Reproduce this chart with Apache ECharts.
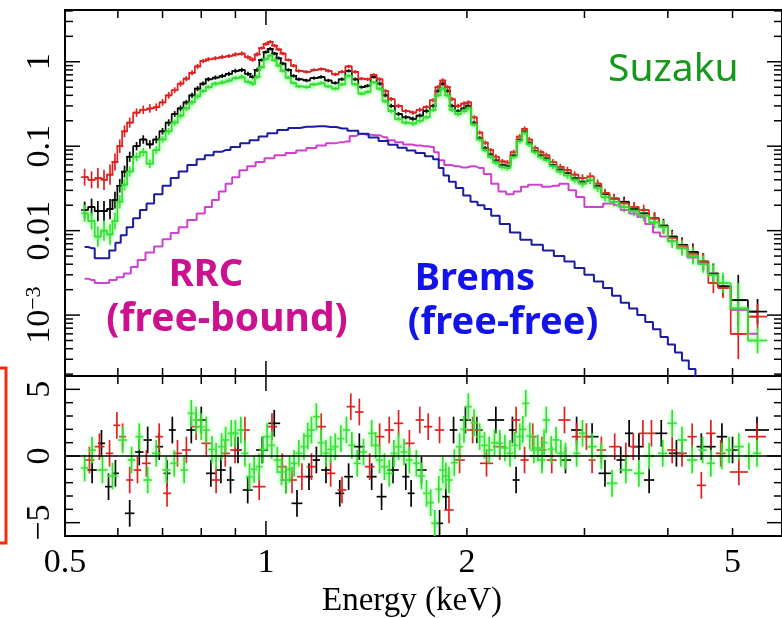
<!DOCTYPE html>
<html lang="en">
  <head>
    <meta charset="UTF-8" />
    <title>Suzaku spectrum</title>
    <script src="https://cdn.jsdelivr.net/npm/echarts@6.0.0/dist/echarts.min.js"></script>
    <style>
      html, body { margin: 0; padding: 0; background: #fff; }
    </style>
  </head>
  <body>
    <div id="main" style="width: 782px; height: 618px"></div>
    <script type="text/javascript">
      // spectral bins (keV), shared by the three detectors
      const energy = [0.535, 0.548, 0.56, 0.572, 0.584, 0.594, 0.604, 0.614, 0.625, 0.64,
        0.655, 0.67, 0.685, 0.70, 0.715, 0.73, 0.745, 0.76, 0.775, 0.79,
        0.805, 0.82, 0.84, 0.86, 0.88, 0.90, 0.92, 0.94, 0.955, 0.97,
        0.985, 1.0, 1.015, 1.03, 1.045, 1.06, 1.08, 1.10, 1.12, 1.15,
        1.18, 1.21, 1.24, 1.27, 1.30, 1.33, 1.36, 1.39, 1.42, 1.45,
        1.48, 1.51, 1.54, 1.58, 1.62, 1.66, 1.70, 1.74, 1.78, 1.81,
        1.84, 1.87, 1.90, 1.94, 1.98, 2.01, 2.05, 2.09, 2.13, 2.17,
        2.21, 2.26, 2.30, 2.35, 2.40, 2.44, 2.48, 2.53, 2.58, 2.63,
        2.69, 2.76, 2.83, 2.90, 2.98, 3.06, 3.14, 3.22, 3.32, 3.44,
        3.56, 3.68, 3.82, 3.94, 4.06, 4.2, 4.36, 4.52, 4.68, 4.84,
        5.1, 5.45];
      const fluxRed = [0.043, 0.040, 0.042, 0.040, 0.046, 0.065, 0.10, 0.15, 0.19, 0.25,
        0.27, 0.28, 0.29, 0.33, 0.40, 0.46, 0.55, 0.63, 0.74, 0.88,
        1.02, 1.07, 1.10, 1.14, 1.17, 1.22, 1.25, 1.13, 1.06, 1.22,
        1.45, 1.62, 1.72, 1.55, 1.40, 1.25, 1.05, 0.90, 0.78, 0.76,
        0.80, 0.82, 0.78, 0.71, 0.76, 0.88, 0.76, 0.63, 0.62, 0.70,
        0.62, 0.45, 0.36, 0.30, 0.26, 0.25, 0.27, 0.29, 0.35, 0.50,
        0.60, 0.50, 0.36, 0.30, 0.32, 0.33, 0.22, 0.145, 0.11, 0.09,
        0.075, 0.066, 0.064, 0.085, 0.13, 0.16, 0.12, 0.095, 0.085, 0.078,
        0.065, 0.057, 0.052, 0.046, 0.042, 0.044, 0.036, 0.028, 0.024, 0.021,
        0.019, 0.0175, 0.014, 0.011, 0.0082, 0.0066, 0.0053, 0.0043, 0.0024, 0.0021,
        0.0006, 0.00096];
      const fluxBlack = [0.0175, 0.019, 0.017, 0.017, 0.018, 0.023, 0.034, 0.05, 0.075, 0.10,
        0.12, 0.105, 0.12, 0.15, 0.19, 0.24, 0.28, 0.33, 0.40, 0.48,
        0.55, 0.62, 0.65, 0.68, 0.72, 0.78, 0.80, 0.72, 0.66, 0.80,
        1.05, 1.30, 1.42, 1.25, 1.10, 0.95, 0.80, 0.68, 0.62, 0.60,
        0.64, 0.66, 0.60, 0.56, 0.62, 0.78, 0.62, 0.50, 0.52, 0.66,
        0.55, 0.40, 0.30, 0.24, 0.22, 0.21, 0.23, 0.26, 0.30, 0.45,
        0.55, 0.45, 0.30, 0.26, 0.28, 0.30, 0.19, 0.125, 0.095, 0.08,
        0.068, 0.060, 0.058, 0.078, 0.12, 0.15, 0.11, 0.088, 0.078, 0.072,
        0.06, 0.053, 0.048, 0.042, 0.038, 0.040, 0.034, 0.027, 0.024, 0.022,
        0.018, 0.016, 0.014, 0.0115, 0.0085, 0.0068, 0.0056, 0.0043, 0.0031, 0.0022,
        0.0015, 0.0011];
      const fluxGreen = [0.016, 0.013, 0.0085, 0.010, 0.009, 0.013, 0.022, 0.035, 0.05, 0.075,
        0.085, 0.062, 0.09, 0.12, 0.15, 0.19, 0.23, 0.28, 0.33, 0.39,
        0.45, 0.50, 0.55, 0.57, 0.60, 0.64, 0.66, 0.58, 0.55, 0.66,
        0.86, 1.08, 1.18, 1.04, 0.90, 0.78, 0.65, 0.56, 0.51, 0.50,
        0.54, 0.56, 0.51, 0.48, 0.54, 0.68, 0.54, 0.42, 0.44, 0.57,
        0.48, 0.34, 0.26, 0.21, 0.19, 0.185, 0.20, 0.22, 0.27, 0.40,
        0.48, 0.40, 0.27, 0.24, 0.26, 0.28, 0.18, 0.12, 0.09, 0.075,
        0.064, 0.057, 0.055, 0.075, 0.115, 0.145, 0.105, 0.085, 0.075, 0.069,
        0.058, 0.050, 0.045, 0.040, 0.036, 0.040, 0.032, 0.025, 0.022, 0.019,
        0.017, 0.015, 0.0125, 0.011, 0.0075, 0.0062, 0.0050, 0.0040, 0.0030, 0.0024,
        0.0012, 0.0005];
      // half length of the vertical error bars, in decades
      const fluxErrDex = [0.1, 0.1, 0.12, 0.12, 0.12, 0.1, 0.08, 0.07, 0.06, 0.05,
        0.05, 0.05, 0.045, 0.04, 0.04, 0.035, 0.035, 0.03, 0.03, 0.03,
        0.025, 0.025, 0.025, 0.025, 0.025, 0.025, 0.025, 0.025, 0.025, 0.025,
        0.02, 0.02, 0.02, 0.02, 0.02, 0.02, 0.02, 0.02, 0.02, 0.02,
        0.02, 0.02, 0.02, 0.02, 0.02, 0.02, 0.02, 0.02, 0.02, 0.02,
        0.025, 0.025, 0.025, 0.025, 0.025, 0.025, 0.025, 0.025, 0.025, 0.025,
        0.025, 0.025, 0.025, 0.025, 0.025, 0.025, 0.025, 0.025, 0.025, 0.025,
        0.03, 0.03, 0.03, 0.03, 0.03, 0.03, 0.03, 0.03, 0.03, 0.03,
        0.035, 0.035, 0.04, 0.04, 0.045, 0.045, 0.05, 0.05, 0.055, 0.06,
        0.06, 0.065, 0.07, 0.08, 0.08, 0.09, 0.1, 0.1, 0.12, 0.12,
        0.3, 0.15];

      // bremsstrahlung (free-free) model
      const bremsEnergy = [0.535, 0.548, 0.56, 0.575, 0.59, 0.60, 0.612, 0.625, 0.64, 0.655,
        0.67, 0.69, 0.71, 0.73, 0.75, 0.775, 0.80, 0.82, 0.85, 0.87,
        0.90, 0.93, 0.96, 0.99, 1.02, 1.06, 1.10, 1.15, 1.20, 1.25,
        1.30, 1.35, 1.40, 1.45, 1.50, 1.55, 1.60, 1.65, 1.70, 1.76,
        1.80, 1.83, 1.86, 1.90, 1.95, 2.00, 2.05, 2.10, 2.15, 2.20,
        2.28, 2.36, 2.45, 2.55, 2.65, 2.75, 2.85, 2.95, 3.05, 3.15,
        3.25, 3.35, 3.45, 3.55, 3.65, 3.75, 3.85, 3.95, 4.05, 4.15,
        4.25, 4.35, 4.45, 4.55];
      const bremsFlux = [0.0064, 0.0062, 0.0047, 0.0047, 0.0058, 0.0072, 0.0088, 0.011, 0.014, 0.0175,
        0.021, 0.027, 0.034, 0.042, 0.05, 0.06, 0.07, 0.078, 0.086, 0.090,
        0.098, 0.108, 0.118, 0.13, 0.142, 0.155, 0.164, 0.170, 0.172, 0.169,
        0.162, 0.152, 0.14, 0.127, 0.115, 0.104, 0.096, 0.089, 0.083, 0.076,
        0.070, 0.055, 0.045, 0.038, 0.032, 0.026, 0.022, 0.020, 0.018, 0.015,
        0.012, 0.0095, 0.0078, 0.0068, 0.0058, 0.005, 0.0043, 0.0036, 0.003, 0.0025,
        0.0021, 0.0017, 0.0014, 0.0012, 0.001, 0.00083, 0.00068, 0.00055, 0.00045, 0.00036,
        0.00029, 0.00023, 0.00018, 0.00014];

      // radiative recombination (free-bound) model
      const rrcEnergy = [0.535, 0.548, 0.56, 0.575, 0.59, 0.605, 0.62, 0.635, 0.65, 0.67,
        0.69, 0.71, 0.73, 0.75, 0.775, 0.80, 0.82, 0.84, 0.86, 0.88,
        0.90, 0.925, 0.95, 0.98, 1.01, 1.05, 1.09, 1.13, 1.17, 1.21,
        1.25, 1.29, 1.32, 1.35, 1.38, 1.42, 1.46, 1.50, 1.54, 1.58,
        1.63, 1.68, 1.73, 1.77, 1.80, 1.83, 1.87, 1.92, 1.97, 2.03,
        2.09, 2.15, 2.2, 2.26, 2.32, 2.38, 2.44, 2.5, 2.56, 2.62,
        2.7, 2.8, 2.88, 2.95, 3.05, 3.15, 3.25, 3.35, 3.45, 3.55,
        3.65, 3.75, 3.85, 3.94, 4.06, 4.2, 4.36, 4.52, 4.66, 4.84,
        5.1, 5.45];
      const rrcFlux = [0.0027, 0.0026, 0.0024, 0.0024, 0.0026, 0.0028, 0.0031, 0.0037, 0.0045, 0.0055,
        0.0065, 0.0079, 0.0094, 0.011, 0.0134, 0.016, 0.019, 0.023, 0.029, 0.036,
        0.043, 0.052, 0.058, 0.065, 0.072, 0.078, 0.083, 0.089, 0.095, 0.102,
        0.108, 0.111, 0.114, 0.132, 0.139, 0.137, 0.135, 0.128, 0.118, 0.111,
        0.105, 0.102, 0.100, 0.098, 0.085, 0.068, 0.060, 0.058, 0.056, 0.058,
        0.055, 0.047, 0.036, 0.029, 0.027, 0.029, 0.033, 0.035, 0.035, 0.033,
        0.034, 0.036, 0.03, 0.025, 0.019, 0.019, 0.021, 0.02, 0.0175, 0.016,
        0.0145, 0.012, 0.0095, 0.0085, 0.0075, 0.0062, 0.0048, 0.0042, 0.0031, 0.0022,
        0.00115, 0.0006];

      // residuals (sigma)
      const resGreenEnergy = [0.535, 0.549, 0.569, 0.589, 0.61, 0.629, 0.646, 0.665, 0.685, 0.709,
        0.729, 0.754, 0.773, 0.786, 0.80, 0.814, 0.83, 0.842, 0.858, 0.87,
        0.887, 0.90, 0.917, 0.93, 0.945, 0.96, 0.977, 0.99, 1.004, 1.02,
        1.04, 1.055, 1.072, 1.085, 1.102, 1.12, 1.14, 1.155, 1.17, 1.19,
        1.21, 1.23, 1.25, 1.27, 1.295, 1.32, 1.345, 1.37, 1.40, 1.44,
        1.46, 1.48, 1.505, 1.53, 1.555, 1.58, 1.61, 1.64, 1.68, 1.71,
        1.74, 1.765, 1.79, 1.815, 1.84, 1.86, 1.88, 1.915, 1.95, 1.98,
        2.01, 2.05, 2.09, 2.125, 2.16, 2.20, 2.24, 2.28, 2.32, 2.36,
        2.40, 2.425, 2.45, 2.485, 2.52, 2.555, 2.59, 2.61, 2.63, 2.675,
        2.72, 2.765, 2.81, 2.92, 2.98, 3.08, 3.18, 3.30, 3.46, 3.62,
        3.75, 3.93, 4.06, 4.20, 4.35, 4.51, 4.64, 4.82, 4.94, 5.11,
        5.29, 5.44];
      const resGreen = [-0.9, 0.45, -1.05, -1.5, 1.2, -0.3, 1.45, -1.8, 0.2, -1.05,
        -0.55, -1.05, 3.2, 2.7, 2.2, 1.95, 0.5, 0, 0.7, 1.2,
        1.7, 1.7, 1.95, 0.2, -1.55, -1.0, -0.8, 0.5, 1.45, 0.8,
        -0.3, -1.2, -1.8, -1.0, -0.55, 0.2, 0.7, 1.5, 1.95, 2.95,
        1.0, 0.2, 0.5, 0.7, 1.3, 1.95, 0.8, -0.55, 0.3, 1.7,
        0.8, -0.3, -0.8, -1.3, 0.2, 0.7, 0.3, -0.3, -0.55, -1.5,
        -2.8, -3.5, -5.05, -2.5, -1.05, -1.5, -1.8, -0.5, 0.7, 2.0,
        3.7, 2.5, 1.45, 0.8, 0.45, 1.0, 0.95, 0.6, 0.2, 0.8,
        1.45, 2.0, 3.95, 1.5, 0.45, 0.6, -0.3, 1.0, 2.7, 0.5,
        1.2, 0.2, 0, 0.2, 1.7, 0.7, 0, -2.05, -1.05, -1.3,
        0, 0.2, 2.45, 1.2, -0.3, 0.45, -0.55, 0, 0.45, 0.7,
        0, 0.2];
      const resRedEnergy = [0.544, 0.563, 0.583, 0.598, 0.61, 0.625, 0.642, 0.662, 0.692, 0.711,
        0.737, 0.76, 0.786, 0.814, 0.842, 0.869, 0.899, 0.93, 0.977, 1.021,
        1.058, 1.094, 1.132, 1.17, 1.21, 1.25, 1.30, 1.34, 1.38, 1.43,
        1.48, 1.53, 1.58, 1.64, 1.70, 1.75, 1.82, 1.88, 1.95, 2.04,
        2.14, 2.24, 2.37, 2.44, 2.51, 2.59, 2.68, 2.80, 2.92, 3.02,
        3.08, 3.18, 3.33, 3.46, 3.55, 3.67, 3.78, 4.06, 4.20, 4.35,
        4.49, 4.64, 4.80, 5.11, 5.44];
      const resRed = [-0.3, 0.7, 0.2, 2.3, 1.45, -1.8, -1.05, -0.55, 1.45, -2.8,
        0.2, 0.45, 2.2, 0.95, -1.8, 0.2, 0.45, 1.95, -2.3, 2.2,
        -0.8, -1.8, -1.55, -0.8, 2.2, -1.3, -2.55, 3.7, 3.3, -0.8,
        1.45, 1.95, 2.45, 0.95, 2.7, 2.2, 1.95, -4.05, -0.3, 1.95,
        -0.55, 0.7, 2.7, -0.3, 1.45, 0.45, -0.3, 2.7, 1.45, 1.45,
        -0.3, 0.45, 0.7, 0, 0.7, 1.7, 1.7, 0.45, 0.2, 1.45,
        -2.2, 1.7, 0.2, -1.2, 1.45];
      const resBlackEnergy = [0.549, 0.567, 0.581, 0.595, 0.625, 0.646, 0.665, 0.692, 0.711, 0.724,
        0.773, 0.80, 0.827, 0.856, 0.885, 0.908, 0.939, 0.987, 1.029, 1.072,
        1.113, 1.16, 1.19, 1.23, 1.29, 1.33, 1.38, 1.44, 1.49, 1.55,
        1.62, 1.65, 1.71, 1.82, 1.86, 1.91, 1.99, 2.07, 2.21, 2.34,
        2.37, 2.59, 2.81, 2.92, 3.08, 3.22, 3.40, 3.50, 3.62, 3.75,
        3.91, 4.12, 4.49, 4.64, 4.82, 5.0, 5.44];
      const resBlack = [-1.05, 0.95, -2.3, -1.3, -4.3, 0.3, 1.2, 0.7, -1.3, 1.95,
        1.95, 2.7, -1.3, -1.05, -1.8, 0.45, -2.55, 0.45, 2.45, -1.8,
        -3.55, -1.55, -0.3, -1.05, -2.8, -1.55, 0.7, -1.55, -3.05, -1.05,
        -1.55, -2.8, -1.05, -5.05, -3.05, 1.95, 2.7, 1.95, 2.7, 1.95,
        -1.8, 0, -0.3, 1.95, 1.45, -1.3, -0.3, 1.7, 0.7, -1.8,
        1.7, 0.2, 0.7, 0.7, 1.45, 0.45, 1.95];

      // axes
      const xMin = 0.5, xMax = 5.93;
      const xMajorTicks = [1];
      const xMinorTicks = [0.6, 0.7, 0.8, 0.9, 2, 3, 4, 5];
      const xTickLabels = [0.5, 1, 2, 5];
      const xTickTexts = ['0.5', '1', '2', '5'];
      const yTopMajorTicks = [0.001, 0.01, 0.1, 1];
      const yTopTickTexts = ['{b|10}{s|\u22123}', '0.01', '0.1', '1'];
      const yTopMinorTicks = [];
      [0.0001, 0.001, 0.01, 0.1, 1].forEach(d => {
        for (let m = 2; m <= 9; m++) {
          const v = d * m;
          if (v > 1.9e-4 && v < 4.1) yTopMinorTicks.push(v);
        }
      });
      const yBotMajorTicks = [-5, 0, 5];
      const yBotTickTexts = ['\u22125', '0', '5'];
      const yBotMinorTicks = [-4, -3, -2, -1, 1, 2, 3, 4];

      const serifFamily = '"Liberation Serif", "DejaVu Serif", serif';

      function stepLine(gridIndex, xs, ys, color, width, glow) {
        const lineStyle = { color: color, width: width };
        if (glow) { lineStyle.shadowBlur = 4; lineStyle.shadowColor = glow; }
        return {
          type: 'line', xAxisIndex: gridIndex, yAxisIndex: gridIndex,
          step: 'middle', symbol: 'none', silent: true, clip: true,
          data: xs.map((x, i) => [x, ys[i]]),
          lineStyle: lineStyle
        };
      }

      function errorBars(gridIndex, xs, ys, lows, highs, color, glow, hwMax) {
        return {
          type: 'custom', xAxisIndex: gridIndex, yAxisIndex: gridIndex,
          clip: true, silent: true,
          data: xs.map((x, i) => [x, ys[i], lows[i], highs[i], i]),
          renderItem: function (params, api) {
            const i = api.value(4);
            const c = api.coord([api.value(0), api.value(1)]);
            const gaps = [];
            if (i > 0) gaps.push(c[0] - api.coord([xs[i - 1], api.value(1)])[0]);
            if (i < xs.length - 1) gaps.push(api.coord([xs[i + 1], api.value(1)])[0] - c[0]);
            let hw = Math.min.apply(null, gaps) / 2;
            hw = Math.max(3.5, Math.min(hwMax, hw));
            const top = api.coord([api.value(0), api.value(3)])[1];
            const bot = api.coord([api.value(0), api.value(2)])[1];
            const style = { stroke: color, lineWidth: 1.7, fill: null };
            if (glow) { style.shadowBlur = 4; style.shadowColor = glow; }
            return {
              type: 'group',
              children: [
                { type: 'line', shape: { x1: c[0] - hw, y1: c[1], x2: c[0] + hw, y2: c[1] }, style: style },
                { type: 'line', shape: { x1: c[0], y1: top, x2: c[0], y2: bot }, style: style }
              ]
            };
          }
        };
      }

      function spectrum(xs, ys, color, glow) {
        const lo = ys.map((y, i) => y / Math.pow(10, fluxErrDex[i]));
        const hi = ys.map((y, i) => y * Math.pow(10, fluxErrDex[i]));
        return [stepLine(0, xs, ys, color, 1.7, glow), errorBars(0, xs, ys, lo, hi, color, glow, 12)];
      }

      function residuals(xs, ys, color, glow) {
        return errorBars(1, xs, ys, ys.map(v => v - 1), ys.map(v => v + 1), color, glow, 12);
      }

      function ticks(gridIndex, axis, values, length, ref) {
        return {
          type: 'custom', xAxisIndex: gridIndex, yAxisIndex: gridIndex,
          silent: true, clip: false, z: 10,
          data: values.map(v => (axis === 'x' ? [v, ref] : [ref, v])),
          renderItem: function (params, api) {
            const cs = params.coordSys;
            const p = api.coord([api.value(0), api.value(1)]);
            const style = { stroke: '#000', lineWidth: 1.5 };
            let a, b;
            if (axis === 'x') {
              a = { x1: p[0], y1: cs.y, x2: p[0], y2: cs.y + length };
              b = { x1: p[0], y1: cs.y + cs.height, x2: p[0], y2: cs.y + cs.height - length };
            } else {
              a = { x1: cs.x, y1: p[1], x2: cs.x + length, y2: p[1] };
              b = { x1: cs.x + cs.width, y1: p[1], x2: cs.x + cs.width - length, y2: p[1] };
            }
            return {
              type: 'group',
              children: [{ type: 'line', shape: a, style: style }, { type: 'line', shape: b, style: style }]
            };
          }
        };
      }

      function labels(gridIndex, axis, values, texts, ref, offset) {
        return {
          type: 'custom', xAxisIndex: gridIndex, yAxisIndex: gridIndex,
          silent: true, clip: false, z: 10,
          data: values.map(v => (axis === 'x' ? [v, ref] : [ref, v])),
          renderItem: function (params, api) {
            const cs = params.coordSys;
            const p = api.coord([api.value(0), api.value(1)]);
            const style = {
              text: texts[params.dataIndex], fontSize: 34, fontFamily: serifFamily, fill: '#000',
              textAlign: 'center', textVerticalAlign: 'middle', align: 'center', verticalAlign: 'middle',
              rich: {
                b: { fontSize: 34, fontFamily: serifFamily, fill: '#000', verticalAlign: 'bottom' },
                s: { fontSize: 22, fontFamily: serifFamily, fill: '#000', verticalAlign: 'top' }
              }
            };
            if (axis === 'x') {
              return { type: 'text', x: p[0], y: cs.y + cs.height + offset, style: style };
            }
            return { type: 'text', x: cs.x - offset, y: p[1], rotation: Math.PI / 2, style: style };
          }
        };
      }

      const hiddenAxis = {
        axisLine: { show: false }, axisTick: { show: false },
        axisLabel: { show: false }, splitLine: { show: false }
      };

      const series = [].concat(
        [stepLine(0, rrcEnergy, rrcFlux, '#d040d0', 2),
         stepLine(0, bremsEnergy, bremsFlux, '#1c1ca0', 2)],
        spectrum(energy, fluxBlack, '#000000'),
        spectrum(energy, fluxRed, '#e02020'),
        spectrum(energy, fluxGreen, '#33dd33', 'rgba(120,255,120,0.9)'),
        [{
          type: 'line', xAxisIndex: 1, yAxisIndex: 1, symbol: 'none', silent: true,
          data: [[xMin, 0], [xMax, 0]], lineStyle: { color: '#000', width: 1.5 }
        },
         residuals(resBlackEnergy, resBlack, '#000000'),
         residuals(resRedEnergy, resRed, '#e02020'),
         residuals(resGreenEnergy, resGreen, '#33dd33', 'rgba(120,255,120,0.9)'),
         ticks(0, 'x', xMajorTicks, 15, 1),
         ticks(0, 'x', xMinorTicks, 8, 1),
         ticks(1, 'x', xMajorTicks, 15, 0),
         ticks(1, 'x', xMinorTicks, 8, 0),
         ticks(0, 'y', yTopMajorTicks, 15, 1),
         ticks(0, 'y', yTopMinorTicks, 8, 1),
         ticks(1, 'y', yBotMajorTicks, 15, 1),
         ticks(1, 'y', yBotMinorTicks, 8, 1),
         labels(1, 'x', xTickLabels, xTickTexts, 0, 27),
         labels(0, 'y', yTopMajorTicks, yTopTickTexts, 1, 25),
         labels(1, 'y', yBotMajorTicks, yBotTickTexts, 1, 25)]
      );

      const option = {
        animation: false,
        backgroundColor: '#fff',
        grid: [
          { left: 65, top: 10, width: 718, height: 366, show: true, borderColor: '#000', borderWidth: 2 },
          { left: 65, top: 376, width: 718, height: 160, show: true, borderColor: '#000', borderWidth: 2 }
        ],
        xAxis: [
          Object.assign({ type: 'log', gridIndex: 0, min: xMin, max: xMax }, hiddenAxis),
          Object.assign({ type: 'log', gridIndex: 1, min: xMin, max: xMax }, hiddenAxis)
        ],
        yAxis: [
          Object.assign({ type: 'log', gridIndex: 0, min: 1.9e-4, max: 4.1 }, hiddenAxis),
          Object.assign({ type: 'value', gridIndex: 1, min: -6, max: 6 }, hiddenAxis)
        ],
        graphic: [
          { type: 'text', x: 412, y: 601, style: { text: 'Energy (keV)', font: '33px ' + serifFamily, fill: '#000',
            textAlign: 'center', textVerticalAlign: 'middle', align: 'center', verticalAlign: 'middle' } },
          { type: 'text', x: 608, y: 70, style: { text: 'Suzaku', font: '39px "Noto Sans"', fill: '#16991a',
            textAlign: 'left', textVerticalAlign: 'middle', align: 'left', verticalAlign: 'middle' } },
          { type: 'text', x: 206, y: 275, style: { text: 'RRC', font: 'bold 38px "Noto Sans"', fill: '#cc1190',
            textAlign: 'center', textVerticalAlign: 'middle', align: 'center', verticalAlign: 'middle' } },
          { type: 'text', x: 227, y: 320, style: { text: '(free-bound)', font: 'bold 39px "Noto Sans"', fill: '#cc1190',
            textAlign: 'center', textVerticalAlign: 'middle', align: 'center', verticalAlign: 'middle' } },
          { type: 'text', x: 475, y: 279, style: { text: 'Brems', font: 'bold 38px "Noto Sans"', fill: '#1212ea',
            textAlign: 'center', textVerticalAlign: 'middle', align: 'center', verticalAlign: 'middle' } },
          { type: 'text', x: 503, y: 323, style: { text: '(free-free)', font: 'bold 38px "Noto Sans"', fill: '#1212ea',
            textAlign: 'center', textVerticalAlign: 'middle', align: 'center', verticalAlign: 'middle' } },
          { type: 'rect', shape: { x: -20, y: 368, width: 26, height: 175 },
            style: { stroke: '#f42c0c', lineWidth: 3, fill: null } }
        ],
        series: series
      };

      const myChart = echarts.init(document.getElementById('main'));
      myChart.setOption(option);
    </script>
  </body>
</html>
